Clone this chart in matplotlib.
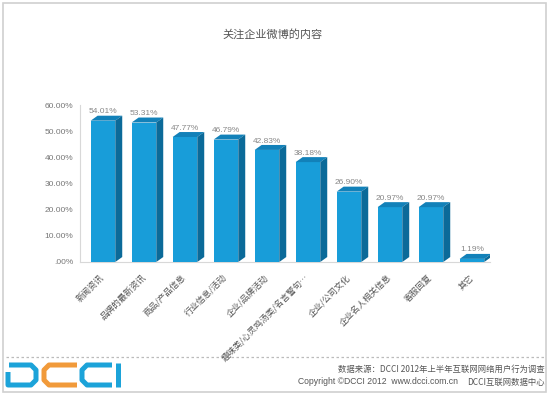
import numpy as np
import matplotlib
matplotlib.use('Agg')
import matplotlib.pyplot as plt
from matplotlib.patches import Polygon, Rectangle

plt.rcParams['font.family'] = ['Noto Sans CJK SC', 'DejaVu Sans']

categories = ['新闻资讯', '品牌的最新资讯', '商品/产品信息', '行业信息/活动', '企业/品牌活动',
              '趣味类/心灵鸡汤类/名言警句…', '企业/公司文化', '企业名人相关信息', '客服回复', '其它']
values = [54.01, 53.31, 47.77, 46.79, 42.83, 38.18, 26.90, 20.97, 20.97, 1.19]
y_ticks = [0, 10, 20, 30, 40, 50, 60]
y_tick_labels = ['.00%', '10.00%', '20.00%', '30.00%', '40.00%', '50.00%', '60.00%']
title = '关注企业微博的内容'
source_line = '数据来源：DCCI 2012年上半年互联网网络用户行为调查'
copyright_line = 'Copyright ©DCCI 2012  www.dcci.com.cn'
center_line = 'DCCI互联网数据中心'

W, H = 549, 397
front_c = '#189dd9'
side_c = '#0b6a99'
top_c = '#1281b9'

fig = plt.figure(figsize=(W / 100, H / 100), dpi=100)
fig.patch.set_facecolor('white')

# background decorations in pixel coordinates
deco = fig.add_axes([0, 0, 1, 1], zorder=0)
deco.set_xlim(0, W)
deco.set_ylim(H, 0)
deco.axis('off')
deco.add_patch(Rectangle((3, 3), 543, 389, fill=False, ec='#d0d0d0', lw=1.2))
deco.plot([6, 544], [357, 357], color='#bbbbbb', lw=0.9, ls=(0, (2, 2)))

# DCCI logo
blue = '#1ca3d9'
orange = '#f19a3a'
lw = 3.6
deco.plot([9, 31, 36, 36, 31, 8, 8], [365, 365, 370, 380, 385, 385, 372],
          color=blue, lw=lw, solid_joinstyle='round', solid_capstyle='butt')
deco.plot([77, 49, 44, 44, 49, 77], [365, 365, 370, 380, 385, 385],
          color=orange, lw=lw, solid_joinstyle='round', solid_capstyle='butt')
deco.plot([112, 87, 82, 82, 87, 112], [365, 365, 370, 380, 385, 385],
          color=blue, lw=lw, solid_joinstyle='round', solid_capstyle='butt')
deco.plot([118, 118], [363, 387], color=blue, lw=lw, solid_capstyle='butt')

fig.text(273 / W, 1 - 34 / H, title, ha='center', va='center', fontsize=8, color='#555555')
fig.text(545 / W, 1 - 369 / H, source_line, ha='right', va='center', fontsize=6, color='#555555')
fig.text(458 / W, 1 - 382 / H, copyright_line, ha='right', va='center', fontsize=6.2,
         color='#555555', family=['Liberation Sans', 'DejaVu Sans'])
fig.text(545 / W, 1 - 382 / H, center_line, ha='right', va='center', fontsize=6, color='#555555')

# main chart
ax = fig.add_axes([80 / W, 1 - 262 / H, 410 / W, 157 / H], zorder=1)
ax.patch.set_alpha(0)
x = np.arange(len(values))
bw = 0.6
dx, dy = 0.17, 1.9
ax.bar(x, values, width=bw, color=front_c, zorder=3)
for xi, v in zip(x, values):
    x0, x1 = xi - bw / 2, xi + bw / 2
    ax.add_patch(Polygon([(x0, v), (x1, v), (x1 + dx, v + dy), (x0 + dx, v + dy)],
                         closed=True, fc=top_c, ec='none', zorder=3))
    ax.add_patch(Polygon([(x1, 0), (x1 + dx, dy), (x1 + dx, v + dy), (x1, v)],
                         closed=True, fc=side_c, ec='none', zorder=3))
    ax.text(xi, v + 3.4, f'{v:.2f}%', ha='center', va='center', fontsize=6,
            color='#888888', family=['Liberation Sans', 'DejaVu Sans'], zorder=4)

ax.set_xlim(-0.56, 9.44)
ax.set_ylim(0, 60)
ax.set_yticks(y_ticks)
ax.set_yticklabels(y_tick_labels, fontsize=6, color='#777777', family=['Liberation Sans', 'DejaVu Sans'])
ax.set_xticks(x)
ax.set_xticklabels(categories, rotation=45, ha='right', va='center', rotation_mode='anchor',
                   fontsize=6.2, color='#555555')
ax.tick_params(axis='both', length=0)
ax.tick_params(axis='x', pad=10)
ax.tick_params(axis='y', pad=5)
for s in ['top', 'right']:
    ax.spines[s].set_visible(False)
ax.spines['left'].set_color('#d8d8d8')
ax.spines['bottom'].set_color('#d8d8d8')

fig.savefig('out.png', dpi=100, facecolor='white')
